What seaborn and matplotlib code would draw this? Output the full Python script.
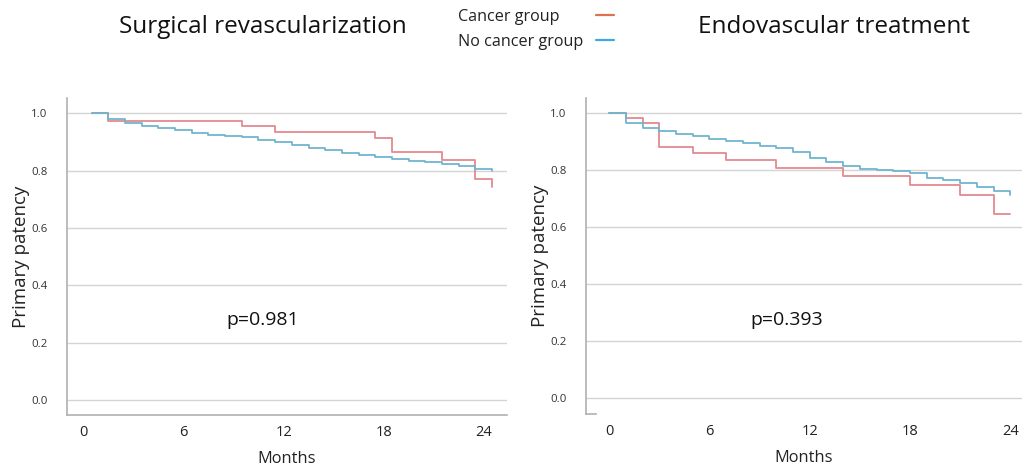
import numpy as np
import pandas as pd
import seaborn as sns
import matplotlib.pyplot as plt
from matplotlib.lines import Line2D
from matplotlib.transforms import ScaledTranslation

# Kaplan-Meier steps (months, primary patency)
surg_cancer_t = [0, 1, 9, 11, 17, 18, 21, 23, 24]
surg_cancer_s = [1.0, 0.974, 0.956, 0.935, 0.912, 0.864, 0.836, 0.772, 0.744]
surg_nocancer_t = list(range(0, 25))
surg_nocancer_s = [1.0, 0.979, 0.965, 0.957, 0.949, 0.941, 0.930, 0.923, 0.920, 0.916,
                   0.907, 0.899, 0.888, 0.879, 0.870, 0.861, 0.854, 0.849, 0.840, 0.834,
                   0.829, 0.823, 0.815, 0.805, 0.799]

endo_cancer_t = [0, 1, 2, 3, 5, 7, 10, 14, 18, 21, 23, 24]
endo_cancer_s = [1.0, 0.981, 0.965, 0.881, 0.860, 0.834, 0.807, 0.778, 0.746, 0.713, 0.644, 0.644]
endo_nocancer_t = list(range(0, 25))
endo_nocancer_s = [1.0, 0.966, 0.946, 0.935, 0.927, 0.920, 0.909, 0.901, 0.895, 0.884,
                   0.876, 0.862, 0.843, 0.827, 0.814, 0.802, 0.799, 0.795, 0.789, 0.772,
                   0.763, 0.752, 0.739, 0.725, 0.711]

groups = ['Cancer group', 'No cancer group']
titles = ['Surgical revascularization', 'Endovascular treatment']
p_values = ['p=0.981', 'p=0.393']
x_ticks = [0, 6, 12, 18, 24]
y_ticks = [0.0, 0.2, 0.4, 0.6, 0.8, 1.0]

line_colors = {'Cancer group': '#e3898f', 'No cancer group': '#6fb5cf'}
legend_colors = ['#dc7250', '#3ea9dc']


def make_df(t1, s1, t2, s2):
    d1 = pd.DataFrame({'Months': t1, 'patency': s1, 'group': groups[0]})
    d2 = pd.DataFrame({'Months': t2, 'patency': s2, 'group': groups[1]})
    return pd.concat([d1, d2], ignore_index=True)


data = [make_df(surg_cancer_t, surg_cancer_s, surg_nocancer_t, surg_nocancer_s),
        make_df(endo_cancer_t, endo_cancer_s, endo_nocancer_t, endo_nocancer_s)]

sns.set_theme(style='white')
plt.rcParams['font.family'] = ['Open Sans', 'DejaVu Sans']

fig = plt.figure(figsize=(10.26, 4.67), dpi=100)
ax_pos = [[67 / 1026, 1 - 415 / 467, 440 / 1026, 317 / 467],
          [586 / 1026, 1 - 414 / 467, 436 / 1026, 316 / 467]]
xlims = [(-1.48, 24.9), (-1.38, 24.7)]
ylims = [(-0.052, 1.053), (-0.057, 1.052)]
title_x = [263, 834]
p_x = [263, 787]

for i in range(2):
    ax = fig.add_axes(ax_pos[i])
    sns.lineplot(data=data[i], x='Months', y='patency', hue='group',
                 palette=line_colors, drawstyle='steps-post', linewidth=1.3,
                 legend=False, ax=ax)
    ax.set_xlim(*xlims[i])
    ax.set_ylim(*ylims[i])
    ax.set_xticks(x_ticks)
    ax.set_yticks(y_ticks)
    ax.set_yticklabels([f'{v:.1f}' for v in y_ticks], fontsize=8.2, color='#333333')
    ax.set_xticklabels([str(v) for v in x_ticks], fontsize=10.5, color='#222222')
    ax.tick_params(axis='y', length=0, pad=14)
    ax.tick_params(axis='x', length=0, pad=7)
    ax.grid(axis='y', color='#d4d4d4', linewidth=1.0)
    ax.set_axisbelow(True)
    for s in ['top', 'right']:
        ax.spines[s].set_visible(False)
    for s in ['left', 'bottom']:
        ax.spines[s].set_color('#b0b0b0')
        ax.spines[s].set_linewidth(1.2)
    ax.set_xlabel('Months', fontsize=11.8, color='#222222', labelpad=8)
    ax.set_ylabel('Primary patency', fontsize=13.5, color='#222222', labelpad=1)
    ax.text(p_x[i] / 1026, 1 - 320 / 467, p_values[i], transform=fig.transFigure,
            fontsize=14, ha='center', va='center', color='#111111')
    fig.text(title_x[i] / 1026, 1 - 27 / 467, titles[i], fontsize=17.5,
             ha='center', va='center', color='#111111')
    if i == 0:
        off = ScaledTranslation(-8 / 100, 0, fig.dpi_scale_trans)
        for lbl in ax.get_xticklabels():
            lbl.set_transform(lbl.get_transform() + off)
    else:
        ax.spines['bottom'].set_bounds(xlims[1][0], -0.8)

# legend: left-aligned labels with the line sample to their right
for k, y in enumerate([15, 40]):
    fig.text(458 / 1026, 1 - (y + 2) / 467, groups[k], fontsize=11.6,
             ha='left', va='center', color='#222222')
    fig.add_artist(Line2D([596 / 1026, 614 / 1026], [1 - y / 467, 1 - y / 467],
                          color=legend_colors[k], linewidth=1.6,
                          transform=fig.transFigure))

fig.savefig('out.png', dpi=100)
